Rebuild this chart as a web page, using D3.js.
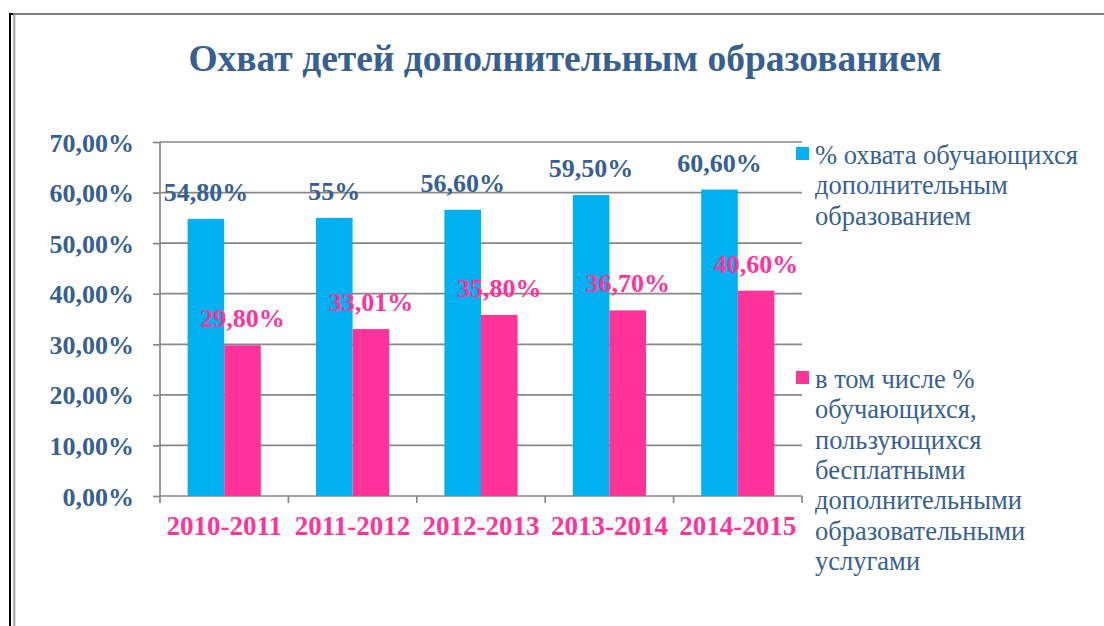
<!DOCTYPE html>
<html>
<head>
<meta charset="utf-8">
<script src="https://cdn.jsdelivr.net/npm/d3@7"></script>
<style>
  html, body { margin: 0; padding: 0; background: #fff; }
  svg { display: block; }
</style>
</head>
<body>
<svg id="chart" width="1104" height="626"></svg>
<script>
const categories = ["2010-2011", "2011-2012", "2012-2013", "2013-2014", "2014-2015"];
const coverage = [54.8, 55.0, 56.6, 59.5, 60.6];
const coverageLabels = ["54,80%", "55%", "56,60%", "59,50%", "60,60%"];
const free = [29.8, 33.01, 35.8, 36.7, 40.6];
const freeLabels = ["29,80%", "33,01%", "35,80%", "36,70%", "40,60%"];
const yTicks = [0, 10, 20, 30, 40, 50, 60, 70];
const yTickLabels = ["0,00%", "10,00%", "20,00%", "30,00%", "40,00%", "50,00%", "60,00%", "70,00%"];
const seriesNames = ["% охвата обучающихся дополнительным образованием",
  "в том числе % обучающихся, пользующихся бесплатными дополнительными образовательными услугами"];
const legendLines = [
  ["% охвата обучающихся", "дополнительным", "образованием"],
  ["в том числе %", "обучающихся,", "пользующихся", "бесплатными", "дополнительными", "образовательными", "услугами"]
];
const title = "Охват детей дополнительным образованием";

const blue = "#00B0F0", pink = "#FF3399", textBlue = "#376092", gridCol = "#878787";
const serif = "'Liberation Serif', 'Times New Roman', serif";

const svg = d3.select("#chart");

// frame
svg.append("line").attr("x1", 10).attr("x2", 10).attr("y1", 13).attr("y2", 626)
  .attr("stroke", "#000").attr("stroke-width", 2);
svg.append("line").attr("x1", 9).attr("x2", 14).attr("y1", 14).attr("y2", 14)
  .attr("stroke", "#000").attr("stroke-width", 2);
svg.append("line").attr("x1", 14.3).attr("x2", 14.3).attr("y1", 13).attr("y2", 626)
  .attr("stroke", "#a0a0a0").attr("stroke-width", 2);
svg.append("line").attr("x1", 13).attr("x2", 1104).attr("y1", 14).attr("y2", 14)
  .attr("stroke", "#808080").attr("stroke-width", 2);

// title
svg.append("text").attr("x", 565).attr("y", 71).attr("text-anchor", "middle")
  .attr("font-family", serif).attr("font-weight", "bold").attr("font-size", 37.5)
  .attr("fill", textBlue).text(title);

const x0 = 160, x1 = 802, yTop = 142, yBot = 496;
const x = d3.scaleBand().domain(categories).range([x0, x1]).paddingInner(0.43).paddingOuter(0.215);
const xs = d3.scaleBand().domain([0, 1]).range([0, x.bandwidth()]);
const y = d3.scaleLinear().domain([0, 70]).range([yBot, yTop]);

// gridlines
svg.append("g").selectAll("line").data(yTicks.filter(t => t > 0)).join("line")
  .attr("x1", x0).attr("x2", x1).attr("y1", d => y(d)).attr("y2", d => y(d))
  .attr("stroke", gridCol).attr("stroke-width", 1.7);

// y axis
const yAxis = d3.axisLeft(y).tickValues(yTicks).tickSize(7).tickPadding(19)
  .tickFormat((d, i) => yTickLabels[i]);
const gy = svg.append("g").attr("transform", `translate(${x0},0)`).call(yAxis);
gy.select(".domain").attr("stroke", gridCol).attr("stroke-width", 1.7).attr("d", `M0,${yTop}V${yBot}`);
gy.selectAll(".tick line").attr("stroke", gridCol).attr("stroke-width", 1.7);
gy.selectAll(".tick text").attr("font-family", serif).attr("font-weight", "bold")
  .attr("font-size", 26).attr("fill", textBlue).attr("dy", "0.35em");

// x axis
const xAxis = d3.axisBottom(x).tickSize(0).tickPadding(20);
const gx = svg.append("g").attr("transform", `translate(0,${yBot})`).call(xAxis);
gx.select(".domain").attr("stroke", gridCol).attr("stroke-width", 1.7).attr("d", `M${x0},0H${x1}`);
gx.selectAll(".tick text").attr("font-family", serif).attr("font-weight", "bold")
  .attr("font-size", 27).attr("fill", pink).attr("dy", "0.71em");
// category separators
const step = x.step();
const sepPos = d3.range(categories.length + 1).map(i => x0 + i * step);
gx.append("g").selectAll("line").data(sepPos).join("line")
  .attr("x1", d => d).attr("x2", d => d).attr("y1", 0).attr("y2", 7)
  .attr("stroke", gridCol).attr("stroke-width", 1.7);

// bars
const seriesData = [coverage, free];
const seriesLabels = [coverageLabels, freeLabels];
const colors = [blue, pink];
const labelColors = [textBlue, pink];
seriesData.forEach((vals, s) => {
  svg.append("g").selectAll("rect").data(vals).join("rect")
    .attr("x", (d, i) => x(categories[i]) + xs(s))
    .attr("y", d => y(d))
    .attr("width", xs.bandwidth())
    .attr("height", d => yBot - y(d))
    .attr("fill", colors[s]);
});
seriesData.forEach((vals, s) => {
  svg.append("g").selectAll("text").data(vals).join("text")
    .attr("x", (d, i) => x(categories[i]) + xs(s) + xs.bandwidth() / 2)
    .attr("y", d => y(d) - 18)
    .attr("text-anchor", "middle")
    .attr("font-family", serif).attr("font-weight", "bold").attr("font-size", 26)
    .attr("fill", labelColors[s])
    .text((d, i) => seriesLabels[s][i]);
});

// legend
const legendTop = [147, 371];
legendLines.forEach((lines, s) => {
  const g = svg.append("g");
  g.append("rect").attr("x", 796).attr("y", legendTop[s]).attr("width", 13).attr("height", 13)
    .attr("fill", colors[s]);
  g.append("text").attr("font-family", serif).attr("font-size", 26.5).attr("fill", textBlue)
    .selectAll("tspan").data(lines).join("tspan")
    .attr("x", 815).attr("y", (d, i) => legendTop[s] + 17 + i * 30.3)
    .text(d => d);
});
</script>
</body>
</html>
